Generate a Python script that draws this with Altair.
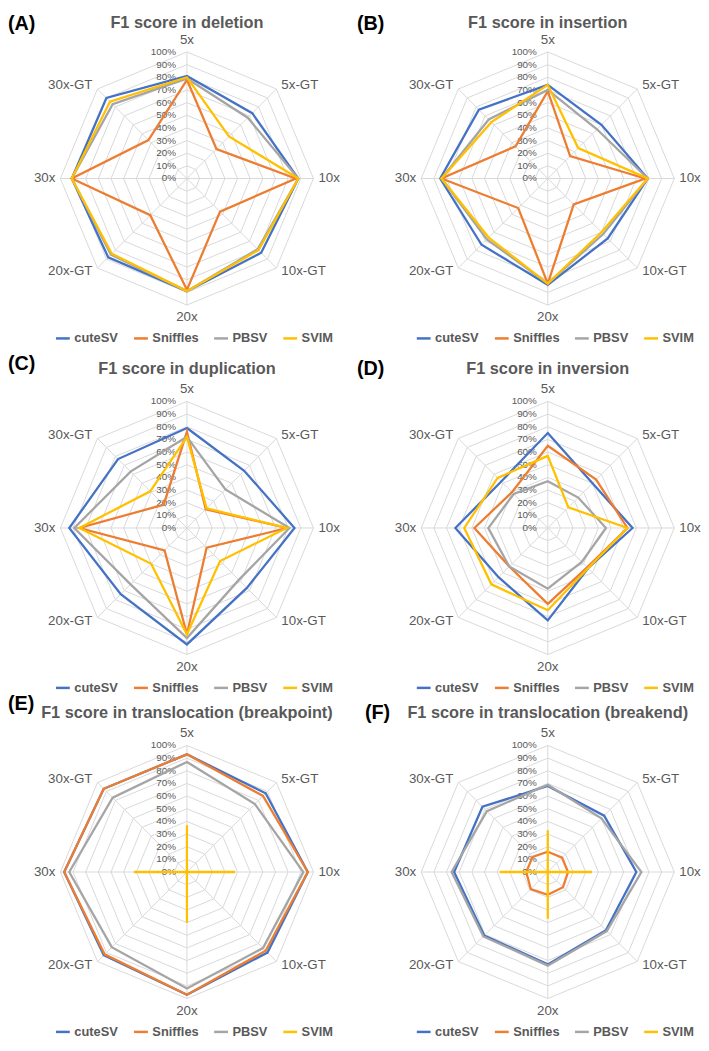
import altair as alt
import pandas as pd

# ---------------- data ----------------
categories = ["5x", "5x-GT", "10x", "10x-GT", "20x", "20x-GT", "30x", "30x-GT"]
tools = ["cuteSV", "Sniffles", "PBSV", "SVIM"]
tool_colors = ["#4472C4", "#ED7D31", "#A5A5A5", "#FFC000"]
grid_levels = [0.1, 0.2, 0.3, 0.4, 0.5, 0.6, 0.7, 0.8, 0.9, 1.0]
tick_values = [0.0, 0.1, 0.2, 0.3, 0.4, 0.5, 0.6, 0.7, 0.8, 0.9, 1.0]
tick_labels = ["0%", "10%", "20%", "30%", "40%", "50%", "60%", "70%", "80%", "90%", "100%"]

deletion = {
    "cuteSV":   [0.81, 0.73, 0.88, 0.83, 0.89, 0.88, 0.91, 0.90],
    "Sniffles": [0.78, 0.33, 0.86, 0.37, 0.88, 0.41, 0.91, 0.43],
    "PBSV":     [0.79, 0.68, 0.88, 0.79, 0.89, 0.85, 0.91, 0.83],
    "SVIM":     [0.80, 0.47, 0.88, 0.80, 0.89, 0.84, 0.91, 0.86],
}
insertion = {
    "cuteSV":   [0.74, 0.60, 0.79, 0.67, 0.84, 0.74, 0.85, 0.77],
    "Sniffles": [0.69, 0.25, 0.77, 0.29, 0.83, 0.33, 0.84, 0.36],
    "PBSV":     [0.70, 0.55, 0.79, 0.62, 0.83, 0.68, 0.84, 0.66],
    "SVIM":     [0.74, 0.34, 0.79, 0.60, 0.83, 0.66, 0.84, 0.63],
}
duplication = {
    "cuteSV":   [0.79, 0.64, 0.85, 0.67, 0.92, 0.74, 0.93, 0.77],
    "Sniffles": [0.76, 0.21, 0.79, 0.22, 0.84, 0.25, 0.85, 0.26],
    "PBSV":     [0.72, 0.43, 0.81, 0.58, 0.87, 0.63, 0.89, 0.63],
    "SVIM":     [0.72, 0.22, 0.79, 0.37, 0.84, 0.40, 0.85, 0.41],
}
inversion = {
    "cuteSV":   [0.75, 0.50, 0.67, 0.45, 0.73, 0.55, 0.73, 0.52],
    "Sniffles": [0.65, 0.54, 0.63, 0.44, 0.60, 0.43, 0.58, 0.40],
    "PBSV":     [0.37, 0.34, 0.46, 0.38, 0.48, 0.43, 0.47, 0.38],
    "SVIM":     [0.57, 0.23, 0.63, 0.45, 0.65, 0.63, 0.66, 0.56],
}
tra_breakpoint = {
    "cuteSV":   [0.93, 0.88, 0.955, 0.90, 0.97, 0.93, 0.97, 0.93],
    "Sniffles": [0.93, 0.85, 0.955, 0.88, 0.97, 0.92, 0.97, 0.93],
    "PBSV":     [0.87, 0.76, 0.92, 0.85, 0.92, 0.84, 0.93, 0.83],
    "SVIM":     [0.37, 0.0, 0.38, 0.0, 0.40, 0.0, 0.42, 0.0],
}
tra_breakend = {
    "cuteSV":   [0.68, 0.63, 0.70, 0.65, 0.73, 0.71, 0.74, 0.73],
    "Sniffles": [0.16, 0.16, 0.16, 0.17, 0.18, 0.19, 0.17, 0.17],
    "PBSV":     [0.69, 0.60, 0.74, 0.66, 0.74, 0.72, 0.76, 0.68],
    "SVIM":     [0.33, 0.0, 0.35, 0.0, 0.37, 0.0, 0.38, 0.0],
}

panel_tags = ["(A)", "(B)", "(C)", "(D)", "(E)", "(F)"]
panel_titles = [
    "F1 score in deletion",
    "F1 score in insertion",
    "F1 score in duplication",
    "F1 score in inversion",
    "F1 score in translocation (breakpoint)",
    "F1 score in translocation (breakend)",
]
panel_values = [deletion, insertion, duplication, inversion, tra_breakpoint, tra_breakend]

# ---------------- layout / style ----------------
FONT = "Liberation Sans"
GRID = "#D9D9D9"
TEXT = "#595959"
R = 128.0  # pixels for 100%
COL_W = [346, 347]
COL_CX = [181, 200]
ROW_H = 345
ROW_CY = [166.5, 175, 178]
TITLE_OFF = [157, 161, 161]
TAG_X = [0, 7, 0, 7, 0, 15]
TAG_DY = [0.5, 0.5, -5, 0, -9, 0]

ANG = "2 * PI * datum.idx / 8"


def radar(k):
    col, row = k % 2, k // 2
    W, H, cx, cy = COL_W[col], ROW_H, COL_CX[col], ROW_CY[row]
    ty = cy - TITLE_OFF[row]
    values = panel_values[k]
    xs = alt.Scale(domain=[-cx / R, (W - cx) / R], nice=False, zero=False)
    ys = alt.Scale(domain=[-(H - cy) / R, cy / R], nice=False, zero=False)

    def X(f):
        return alt.X(f, type="quantitative", scale=xs, axis=None)

    def Y(f):
        return alt.Y(f, type="quantitative", scale=ys, axis=None)

    series = pd.DataFrame(
        [{"tool": t, "idx": i, "cat": c, "value": v}
         for t in tools for i, (c, v) in enumerate(zip(categories, values[t]))]
    )
    grid = pd.DataFrame(
        [{"level": lv, "idx": i} for lv in grid_levels for i in range(len(categories))]
    )
    cats = pd.DataFrame({"cat": categories, "idx": list(range(len(categories)))})
    ticks = pd.DataFrame({"label": tick_labels, "level": tick_values})

    grid_layer = alt.Chart(grid).transform_calculate(
        gx=f"datum.level * sin({ANG})", gy=f"datum.level * cos({ANG})"
    ).mark_line(interpolate="linear-closed", stroke=GRID, strokeWidth=1).encode(
        x=X("gx"), y=Y("gy"), detail="level:N", order="idx:Q"
    )

    spokes = alt.Chart(cats).transform_calculate(
        zero="0", sx=f"sin({ANG})", sy=f"cos({ANG})"
    ).mark_rule(stroke=GRID, strokeWidth=1).encode(
        x=X("zero"), y=Y("zero"), x2="sx:Q", y2="sy:Q"
    )

    tick_text = alt.Chart(ticks).transform_calculate(zero="0").mark_text(
        align="right", baseline="middle", dx=-11, fontSize=10, font=FONT, color=TEXT
    ).encode(x=X("zero"), y=Y("level"), text="label:N")

    def cat_layer(cond, align):
        return alt.Chart(cats).transform_calculate(
            sx=f"sin({ANG})", sy=f"cos({ANG})"
        ).transform_filter(cond).transform_calculate(
            lx=f"abs(datum.sx) < 0.01 ? 0 : datum.sx + (datum.sx > 0 ? 1 : -1) * {5 / R}",
            ly=f"abs(datum.sx) < 0.01 ? datum.sy * {1 + 12.5 / R} : datum.sy * {1 + 5 / R}",
        ).mark_text(
            align=align, baseline="middle", fontSize=13.5, font=FONT, color=TEXT
        ).encode(x=X("lx"), y=Y("ly"), text="cat:N")

    cat_center = cat_layer("abs(datum.sx) < 0.01", "center")
    cat_right = cat_layer("datum.sx > 0.01", "left")
    cat_left = cat_layer("datum.sx < -0.01", "right")

    title = alt.Chart(pd.DataFrame({"t": [panel_titles[k]]})).mark_text(
        align="center", baseline="middle", fontSize=16.5, fontWeight="bold",
        font=FONT, color=TEXT
    ).encode(text="t:N", x=alt.value(cx), y=alt.value(ty))

    tag = alt.Chart(pd.DataFrame({"t": [panel_tags[k]]})).mark_text(
        align="left", baseline="middle", fontSize=20, fontWeight="bold",
        font=FONT, color="#000000"
    ).encode(text="t:N", x=alt.value(TAG_X[k]), y=alt.value(ty + TAG_DY[k]))

    legend = alt.Legend(
        title=None, orient="none", legendX=cx - 134, legendY=cy + 153,
        direction="horizontal", columns=4, symbolType="stroke",
        symbolSize=196, symbolStrokeWidth=2.5, labelFont=FONT,
        labelFontSize=13, labelFontWeight="bold", labelColor=TEXT,
        labelOffset=3, columnPadding=10,
    )
    color = alt.Color("tool:N", scale=alt.Scale(domain=tools, range=tool_colors),
                      legend=legend)

    lines = []
    for t in tools:
        lines.append(
            alt.Chart(series).transform_filter(alt.datum.tool == t).transform_calculate(
                px=f"datum.value * sin({ANG})", py=f"datum.value * cos({ANG})"
            ).mark_line(interpolate="linear-closed", strokeWidth=2.3).encode(
                x=X("px"), y=Y("py"), order="idx:Q", color=color
            )
        )

    return alt.layer(
        grid_layer, spokes, tick_text, cat_center, cat_right, cat_left,
        title, tag, *lines
    ).properties(width=W, height=H)


chart = alt.concat(
    *[radar(k) for k in range(6)], columns=2, spacing=0, bounds="flush"
).resolve_scale(color="independent").resolve_legend(color="independent").properties(
    padding=0
).configure_view(stroke=None)

chart.save("out.html", embed_options={"renderer": "svg", "actions": False})
